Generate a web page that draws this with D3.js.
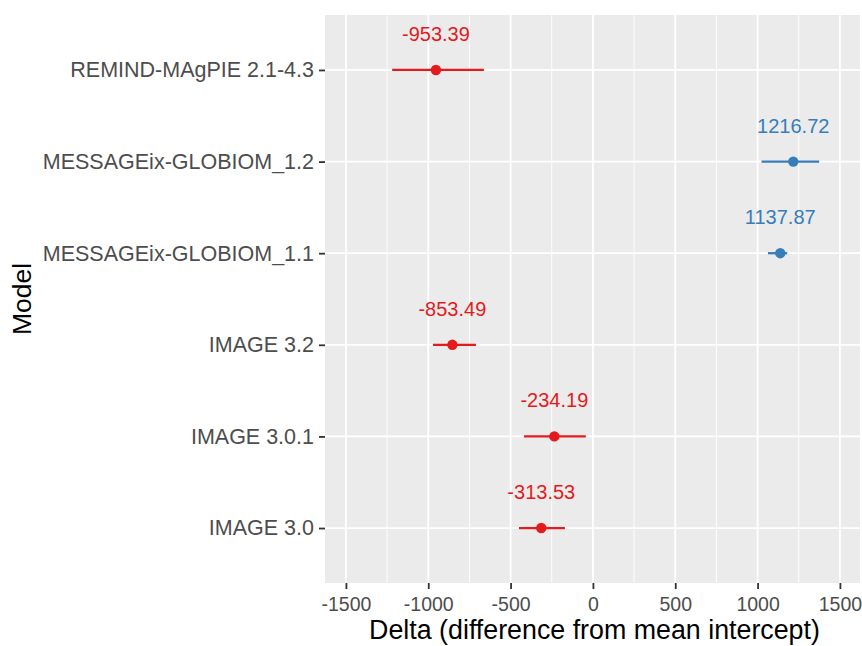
<!DOCTYPE html>
<html lang="en">
<head>
<meta charset="UTF-8">
<title>Delta by model</title>
<style>
  body { margin: 0; background: #fff; }
  svg text { font-family: "Liberation Sans", Arial, sans-serif; }
</style>
</head>
<body>
<div id="chart"></div>
<script src="https://d3js.org/d3.v7.min.js"></script>
<script>
  // data, bottom to top as in the plot
  const models = ["IMAGE 3.0", "IMAGE 3.0.1", "IMAGE 3.2", "MESSAGEix-GLOBIOM_1.1", "MESSAGEix-GLOBIOM_1.2", "REMIND-MAgPIE 2.1-4.3"];
  const delta = [-313.53, -234.19, -853.49, 1137.87, 1216.72, -953.39];
  const lower = [-449, -419, -971, 1063, 1024, -1219];
  const upper = [-170, -43, -710, 1180, 1374, -662];
  const xTicks = [-1500, -1000, -500, 0, 500, 1000, 1500];

  const W = 862, H = 646;
  const m = { left: 325, top: 15, right: 2, bottom: 63 };
  const pw = W - m.left - m.right, ph = H - m.top - m.bottom;

  const svg = d3.select("#chart").append("svg")
    .attr("width", W).attr("height", H);

  const x = d3.scaleLinear().domain([-1627, 1622]).range([m.left, m.left + pw]);
  const y = d3.scalePoint().domain(models).range([m.top + ph, m.top]).padding(0.6);

  const col = d => d > 0 ? "#377EB8" : "#E41A1C";

  // panel
  svg.append("rect").attr("x", m.left).attr("y", m.top)
    .attr("width", pw).attr("height", ph).attr("fill", "#EBEBEB");

  // minor grid
  const minor = d3.range(-1750, 1751, 500).filter(v => v > x.domain()[0] && v < x.domain()[1]);
  svg.append("g").selectAll("line").data(minor).join("line")
    .attr("x1", d => x(d)).attr("x2", d => x(d))
    .attr("y1", m.top).attr("y2", m.top + ph)
    .attr("stroke", "#fff").attr("stroke-width", 0.9);

  // major grid
  svg.append("g").selectAll("line").data(xTicks).join("line")
    .attr("x1", d => x(d)).attr("x2", d => x(d))
    .attr("y1", m.top).attr("y2", m.top + ph)
    .attr("stroke", "#fff").attr("stroke-width", 1.8);
  svg.append("g").selectAll("line").data(models).join("line")
    .attr("x1", m.left).attr("x2", m.left + pw)
    .attr("y1", d => y(d)).attr("y2", d => y(d))
    .attr("stroke", "#fff").attr("stroke-width", 1.8);

  // axes
  const xAxis = svg.append("g")
    .attr("transform", `translate(0,${m.top + ph})`)
    .call(d3.axisBottom(x).tickValues(xTicks).tickFormat(d3.format("d")).tickSize(6).tickPadding(8));
  const yAxis = svg.append("g")
    .attr("transform", `translate(${m.left},0)`)
    .call(d3.axisLeft(y).tickSize(6).tickPadding(5));
  [xAxis, yAxis].forEach(a => {
    a.select(".domain").remove();
    a.selectAll(".tick line").attr("stroke", "#333").attr("stroke-width", 1.8);
    a.selectAll(".tick text").attr("fill", "#4D4D4D").style("font-size", "19.5px");
  });
  xAxis.selectAll(".tick text").text(d => String(d).replace("\u2212", "-"));
  yAxis.selectAll(".tick text").style("font-size", "21.5px");

  // error bars
  svg.append("g").selectAll("line").data(models).join("line")
    .attr("x1", (d, i) => x(lower[i])).attr("x2", (d, i) => x(upper[i]))
    .attr("y1", d => y(d)).attr("y2", d => y(d))
    .attr("stroke", (d, i) => col(delta[i])).attr("stroke-width", 2.3);

  // points
  svg.append("g").selectAll("circle").data(models).join("circle")
    .attr("cx", (d, i) => x(delta[i])).attr("cy", d => y(d)).attr("r", 5.2)
    .attr("fill", (d, i) => col(delta[i]));

  // value labels
  svg.append("g").selectAll("text").data(models).join("text")
    .attr("x", (d, i) => x(delta[i])).attr("y", d => y(d) - 29)
    .attr("text-anchor", "middle")
    .attr("fill", (d, i) => col(delta[i]))
    .style("font-size", "20px")
    .text((d, i) => delta[i].toFixed(2));

  // axis titles
  svg.append("text").attr("x", m.left + pw / 2 + 2).attr("y", H - 7)
    .attr("text-anchor", "middle").style("font-size", "26.8px").attr("fill", "#000")
    .text("Delta (difference from mean intercept)");
  svg.append("text")
    .attr("transform", `translate(31,${m.top + ph / 2}) rotate(-90)`)
    .attr("text-anchor", "middle").style("font-size", "26.5px").attr("fill", "#000")
    .text("Model");
</script>
</body>
</html>
